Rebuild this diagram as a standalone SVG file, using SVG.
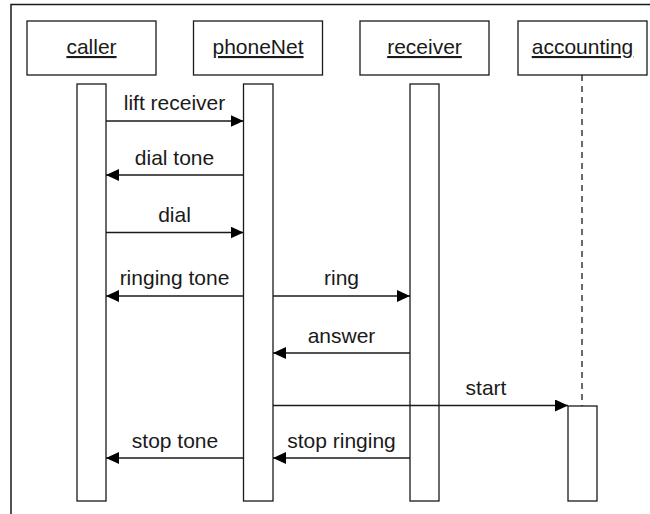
<svg xmlns="http://www.w3.org/2000/svg" width="650" height="514" viewBox="0 0 650 514">
  <defs>
    <style>
      .box { fill: #fff; stroke: #1a1a1a; stroke-width: 1.3; }
      .bar { fill: #fff; stroke: #1a1a1a; stroke-width: 1.3; }
      .msg { stroke: #1a1a1a; stroke-width: 1.3; fill: none; marker-end: url(#ah); }
      .life { stroke: #1a1a1a; stroke-width: 1.3; stroke-dasharray: 6 5; fill: none; }
      .frame { stroke: #1a1a1a; stroke-width: 1.5; fill: none; }
      text { font-family: "Liberation Sans", Arial, sans-serif; font-size: 21px; fill: #1a1a1a; text-anchor: middle; }
      .name { text-decoration: underline; }
    </style>
    <marker id="ah" markerWidth="13" markerHeight="12" refX="13" refY="6" orient="auto" markerUnits="userSpaceOnUse">
      <path d="M0,0 L13,6 L0,12 Z" fill="#000"/>
    </marker>
  </defs>
  <rect width="650" height="514" fill="#fff"/>
  <path class="frame" d="M11,514 V4.5 H650"/>

  <g id="caller">
    <rect class="box" x="27" y="21" width="129" height="54"/>
    <text class="name" x="91.5" y="54">caller</text>
    <rect class="bar" x="77" y="84" width="29" height="417"/>
  </g>
  <g id="phoneNet">
    <rect class="box" x="193.5" y="21" width="129" height="54"/>
    <text class="name" x="258" y="54">phoneNet</text>
    <rect class="bar" x="243.5" y="84" width="29.5" height="417"/>
  </g>
  <g id="receiver">
    <rect class="box" x="360" y="21" width="129" height="54"/>
    <text class="name" x="424.5" y="54">receiver</text>
    <rect class="bar" x="410" y="84" width="29" height="417"/>
  </g>
  <g id="accounting">
    <rect class="box" x="518" y="21" width="129" height="54"/>
    <text class="name" x="582.5" y="54">accounting</text>
    <line class="life" x1="582" y1="75" x2="582" y2="406"/>
    <rect class="bar" x="568" y="406" width="29" height="95"/>
  </g>

  <g id="connectors">
    <line class="msg" x1="106" y1="121" x2="243.5" y2="121"/>
    <text x="174.5" y="110">lift receiver</text>

    <line class="msg" x1="243.5" y1="175" x2="106" y2="175"/>
    <text x="174.5" y="165">dial tone</text>

    <line class="msg" x1="106" y1="232.5" x2="243.5" y2="232.5"/>
    <text x="174.5" y="222">dial</text>

    <line class="msg" x1="243.5" y1="296" x2="106" y2="296"/>
    <text x="174.5" y="285">ringing tone</text>

    <line class="msg" x1="273" y1="296" x2="410" y2="296"/>
    <text x="341.5" y="285">ring</text>

    <line class="msg" x1="410" y1="353" x2="273" y2="353"/>
    <text x="341.5" y="343">answer</text>

    <line class="msg" x1="273" y1="405.5" x2="568" y2="405.5"/>
    <text x="486" y="395">start</text>

    <line class="msg" x1="243.5" y1="458" x2="106" y2="458"/>
    <text x="175" y="448">stop tone</text>

    <line class="msg" x1="410" y1="458" x2="273" y2="458"/>
    <text x="341.5" y="448">stop ringing</text>
  </g>
</svg>
